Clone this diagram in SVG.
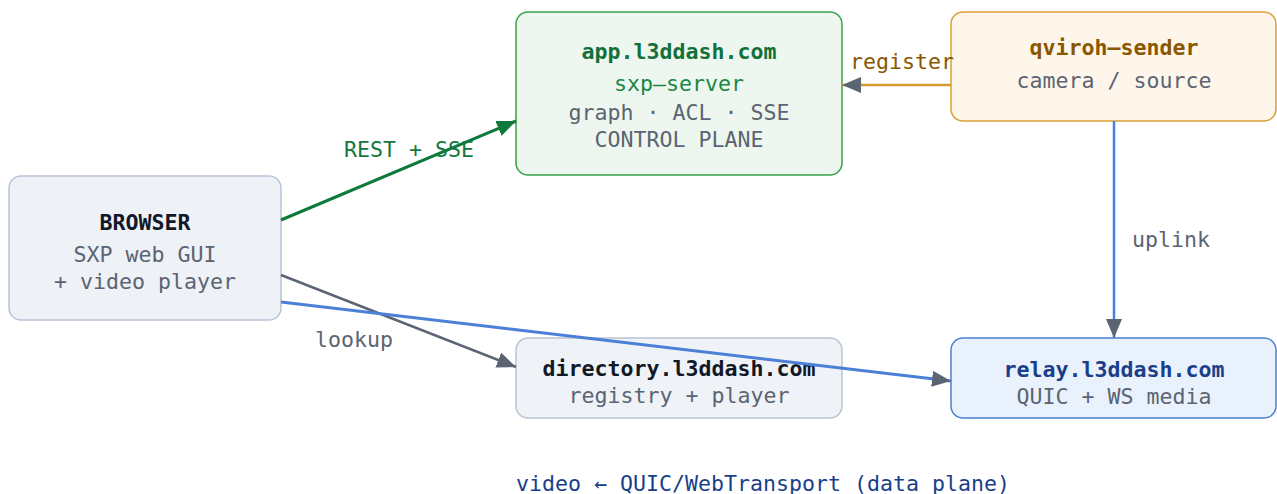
<svg xmlns="http://www.w3.org/2000/svg" width="1277" height="494" viewBox="0 0 1277 494">
<defs>
<style>
text{font-family:"DejaVu Sans Mono","Liberation Mono",monospace;font-size:21.6px}
.c{text-anchor:middle}
.b{font-weight:bold}
.g{fill:#5b6472}
.box{stroke-width:1.5}
.ln{fill:none}
</style>
<marker id="ag" markerUnits="userSpaceOnUse" markerWidth="20" markerHeight="16" refX="19" refY="8" orient="auto"><path d="M0,0 L19,8 L0,16 z" fill="#5b6472"/></marker>
<marker id="agr" markerUnits="userSpaceOnUse" markerWidth="20" markerHeight="16" refX="19" refY="8" orient="auto"><path d="M0,0 L19,8 L0,16 z" fill="#0d7a3b"/></marker>
</defs>
<rect width="1277" height="494" fill="#ffffff"/>
<g id="browser">
<rect class="box" x="9" y="176" width="272" height="144" rx="12" fill="#eef1f6" stroke="#b9c3d6"/>
<text class="c b" x="145" y="230" fill="#111827">BROWSER</text>
<text class="c g" x="145" y="262">SXP web GUI</text>
<text class="c g" x="145" y="289">+ video player</text>
</g>
<g id="app">
<rect class="box" x="516" y="12" width="326" height="163" rx="12" fill="#edf7ef" stroke="#3aa14b"/>
<text class="c b" x="679" y="59" fill="#13703a">app.l3ddash.com</text>
<text class="c" x="679" y="91" fill="#1a8745">sxp–server</text>
<text class="c g" x="679" y="120">graph · ACL · SSE</text>
<text class="c g" x="679" y="147">CONTROL PLANE</text>
</g>
<g id="qviroh">
<rect class="box" x="951" y="12" width="325" height="109" rx="12" fill="#fff6eb" stroke="#d9a033"/>
<text class="c b" x="1114" y="55" fill="#8a5600">qviroh–sender</text>
<text class="c g" x="1114" y="88">camera / source</text>
</g>
<g id="directory">
<rect class="box" x="516" y="338" width="326" height="80" rx="12" fill="#eff2f7" stroke="#b9c3d6"/>
<text class="c b" x="679" y="376" fill="#111827">directory.l3ddash.com</text>
<text class="c g" x="679" y="403">registry + player</text>
</g>
<g id="relay">
<rect class="box" x="951" y="338" width="325" height="80" rx="12" fill="#e9f1fd" stroke="#4a80d3"/>
<text class="c b" x="1114" y="377" fill="#1a3f8a">relay.l3ddash.com</text>
<text class="c g" x="1114" y="404">QUIC + WS media</text>
</g>
<g id="connectors">
<line class="ln" x1="281" y1="220" x2="516" y2="121" stroke="#0d7a3b" stroke-width="3" marker-end="url(#agr)"/>
<line class="ln" x1="281" y1="275" x2="516" y2="367" stroke="#5b6472" stroke-width="2.5" marker-end="url(#ag)"/>
<line class="ln" x1="281" y1="302" x2="951" y2="381" stroke="#4a80d6" stroke-width="3" marker-end="url(#ag)"/>
<line class="ln" x1="951" y1="85" x2="842" y2="85" stroke="#d49a2a" stroke-width="2.5" marker-end="url(#ag)"/>
<line class="ln" x1="1114" y1="121" x2="1114" y2="338" stroke="#4a80d6" stroke-width="2.5" marker-end="url(#ag)"/>
<text x="344" y="157" fill="#15793d">REST + SSE</text>
<text x="315" y="347" class="g">lookup</text>
<text x="850" y="69" fill="#8a5600">register</text>
<text x="1132" y="247" class="g">uplink</text>
</g>
<text x="516" y="491" fill="#1a3f8a">video ← QUIC/WebTransport (data plane)</text>
</svg>
